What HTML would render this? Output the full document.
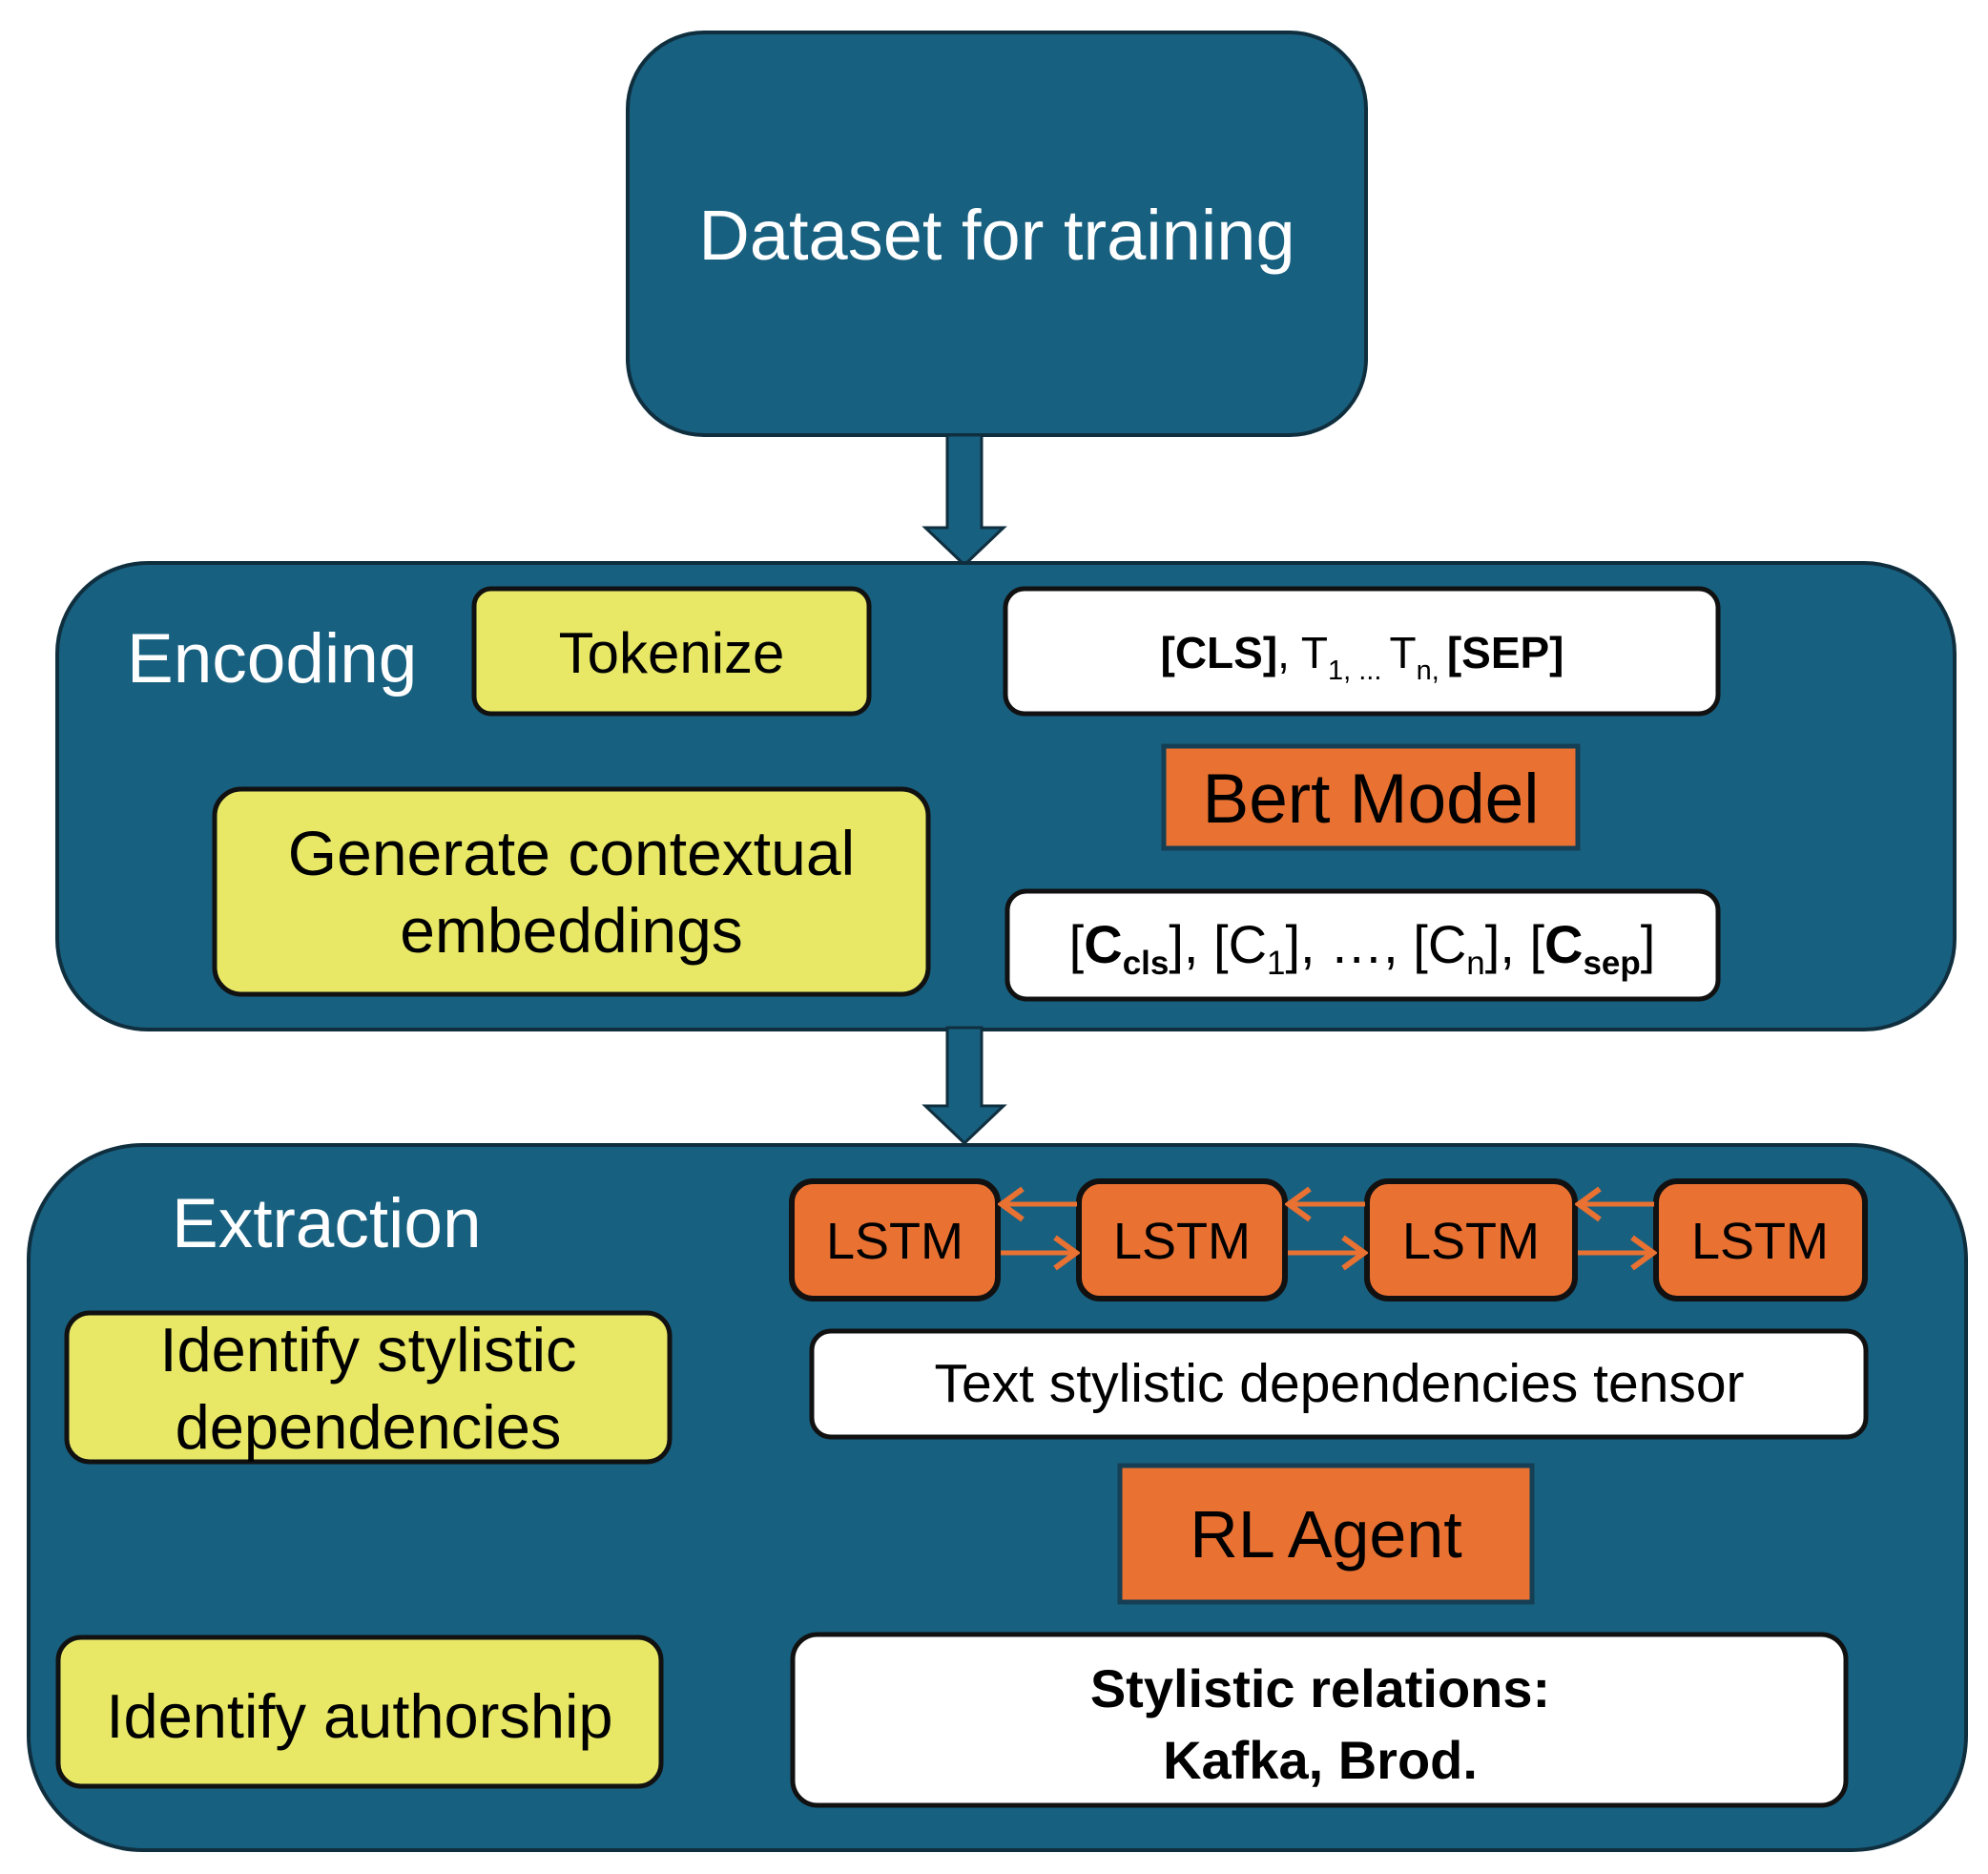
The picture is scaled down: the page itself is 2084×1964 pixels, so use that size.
<!DOCTYPE html>
<html><head><meta charset="utf-8"><style>
html,body{margin:0;padding:0;background:#fff;}
svg{display:block;}
text{font-family:"Liberation Sans",sans-serif;}
</style></head><body>
<svg width="2084" height="1964" viewBox="0 0 2084 1964" xmlns="http://www.w3.org/2000/svg">
<defs>
<marker id="ch" viewBox="0 0 40 40" refX="36" refY="20" markerWidth="40" markerHeight="40" markerUnits="userSpaceOnUse" orient="auto">
<path d="M14 4 L36 20 L14 36" fill="none" stroke="#E97132" stroke-width="6"/>
</marker>
</defs>
<rect x="658" y="34" width="774" height="422" rx="80" fill="#186080" stroke="#0f2f3f" stroke-width="4"/>
<text x="1045" y="272" font-size="74" fill="#fff" text-anchor="middle">Dataset for training</text>
<path d="M993 456 H1029 V553 H1052 L1011 592 L970 553 H993 Z" fill="#186080" stroke="#0f2f3f" stroke-width="3"/>
<rect x="60" y="590" width="1989" height="489" rx="95" fill="#186080" stroke="#0f2f3f" stroke-width="4"/>
<text x="133" y="715" font-size="73" fill="#fff">Encoding</text>
<rect x="497" y="617" width="414" height="131" rx="18" fill="#E8E866" stroke="#111" stroke-width="5"/>
<text x="704" y="705" font-size="60" fill="#000" text-anchor="middle">Tokenize</text>
<rect x="1054" y="617" width="747" height="131" rx="20" fill="#fff" stroke="#111" stroke-width="5"/>
<text x="1428" y="700" font-size="46" fill="#000" text-anchor="middle"><tspan font-weight="bold">[CLS]</tspan>, T<tspan font-size="29" dy="12">1, ... </tspan><tspan dy="-12">T</tspan><tspan font-size="29" dy="12">n, </tspan><tspan dy="-12" font-weight="bold">[SEP]</tspan></text>
<rect x="1220" y="782" width="434" height="107" fill="#E97132" stroke="#143f55" stroke-width="5"/>
<text x="1437" y="862" font-size="73" fill="#000" text-anchor="middle">Bert Model</text>
<rect x="225" y="827" width="748" height="215" rx="28" fill="#E8E866" stroke="#111" stroke-width="5"/>
<text x="599" y="917" font-size="66" fill="#000" text-anchor="middle">Generate contextual</text>
<text x="599" y="998" font-size="66" fill="#000" text-anchor="middle">embeddings</text>
<rect x="1056" y="934" width="745" height="113" rx="20" fill="#fff" stroke="#111" stroke-width="5"/>
<text x="1428" y="1009" font-size="56" fill="#000" text-anchor="middle">[<tspan font-weight="bold">C</tspan><tspan font-size="35" dy="12" font-weight="bold">cls</tspan><tspan dy="-12">], [C</tspan><tspan font-size="35" dy="12">1</tspan><tspan dy="-12">], …, [C</tspan><tspan font-size="35" dy="12">n</tspan><tspan dy="-12">], [</tspan><tspan font-weight="bold">C</tspan><tspan font-size="35" dy="12" font-weight="bold">sep</tspan><tspan dy="-12">]</tspan></text>
<path d="M993 1077 H1029 V1159 H1052 L1011 1198 L970 1159 H993 Z" fill="#186080" stroke="#0f2f3f" stroke-width="3"/>
<rect x="30" y="1200" width="2031" height="739" rx="120" fill="#186080" stroke="#0f2f3f" stroke-width="4"/>
<text x="180" y="1307" font-size="73" fill="#fff">Extraction</text>
<g stroke="#111" stroke-width="6" fill="#E97132">
<rect x="830" y="1238" width="216" height="123" rx="22"/>
<rect x="1131" y="1238" width="216" height="123" rx="22"/>
<rect x="1433" y="1238" width="218" height="123" rx="22"/>
<rect x="1736" y="1238" width="219" height="123" rx="22"/>
</g>
<g font-size="54" fill="#000" text-anchor="middle">
<text x="938" y="1319">LSTM</text>
<text x="1239" y="1319">LSTM</text>
<text x="1542" y="1319">LSTM</text>
<text x="1845" y="1319">LSTM</text>
</g>
<g stroke="#E97132" stroke-width="5" marker-end="url(#ch)">
<line x1="1129" y1="1262" x2="1050" y2="1262"/>
<line x1="1431" y1="1262" x2="1351" y2="1262"/>
<line x1="1734" y1="1262" x2="1655" y2="1262"/>
<line x1="1049" y1="1313" x2="1128" y2="1313"/>
<line x1="1350" y1="1313" x2="1430" y2="1313"/>
<line x1="1654" y1="1313" x2="1733" y2="1313"/>
</g>
<rect x="70" y="1376" width="632" height="156" rx="24" fill="#E8E866" stroke="#111" stroke-width="5"/>
<text x="386" y="1437" font-size="65" fill="#000" text-anchor="middle">Identify stylistic</text>
<text x="386" y="1518" font-size="65" fill="#000" text-anchor="middle">dependencies</text>
<rect x="851" y="1395" width="1105" height="111" rx="20" fill="#fff" stroke="#111" stroke-width="5"/>
<text x="1404" y="1469" font-size="57" fill="#000" text-anchor="middle">Text stylistic dependencies tensor</text>
<rect x="1174" y="1536" width="432" height="143" fill="#E97132" stroke="#143f55" stroke-width="5"/>
<text x="1390" y="1632" font-size="70" fill="#000" text-anchor="middle">RL Agent</text>
<rect x="61" y="1716" width="632" height="156" rx="24" fill="#E8E866" stroke="#111" stroke-width="5"/>
<text x="377" y="1821" font-size="65" fill="#000" text-anchor="middle">Identify authorship</text>
<rect x="831" y="1713" width="1104" height="179" rx="26" fill="#fff" stroke="#111" stroke-width="5"/>
<text x="1384" y="1789" font-size="56" font-weight="bold" fill="#000" text-anchor="middle">Stylistic relations:</text>
<text x="1384" y="1864" font-size="56" font-weight="bold" fill="#000" text-anchor="middle">Kafka, Brod.</text>
</svg>
</body></html>
